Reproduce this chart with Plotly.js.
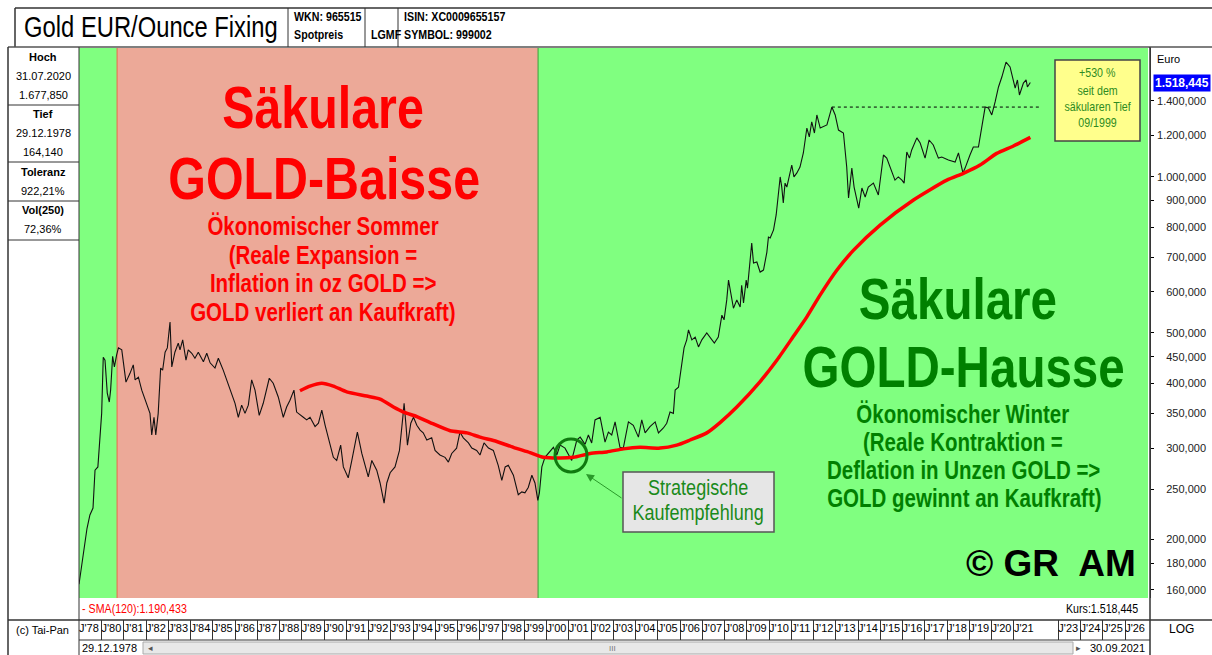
<!DOCTYPE html>
<html><head><meta charset="utf-8">
<script src="https://cdn.plot.ly/plotly-3.0.1.min.js"></script>
<style>html,body{margin:0;padding:0;background:#fff}#c{width:1212px;height:655px}</style>
</head><body><div id="c"></div>
<script>
// ---------- data ----------
const priceT = [1978.99,1979.08,1979.21,1979.35,1979.48,1979.62,1979.71,1979.84,1980.01,1980.08,
1980.16,1980.26,1980.35,1980.41,1980.50,1980.58,1980.68,1980.76,1980.91,1981.10,
1981.28,1981.43,1981.51,1981.66,1981.81,1982.03,1982.18,1982.26,1982.36,1982.44,
1982.55,1982.66,1982.75,1982.86,1982.96,1983.08,1983.16,1983.30,1983.45,1983.53,
1983.65,1983.80,1983.90,1984.06,1984.20,1984.35,1984.58,1984.73,1984.88,1985.10,
1985.25,1985.47,1985.63,1985.78,1986.00,1986.15,1986.30,1986.45,1986.60,1986.75,
1986.90,1987.09,1987.27,1987.54,1987.72,1987.95,1988.17,1988.32,1988.47,1988.65,
1988.77,1989.07,1989.22,1989.37,1989.60,1989.75,1989.90,1990.05,1990.27,1990.42,
1990.57,1990.75,1990.87,1991.09,1991.25,1991.50,1991.70,1991.99,1992.15,1992.37,
1992.52,1992.70,1992.82,1992.97,1993.19,1993.39,1993.54,1993.60,1993.69,1993.75,
1993.90,1994.02,1994.17,1994.32,1994.46,1994.62,1994.84,1994.99,1995.21,1995.44,
1995.59,1995.74,1995.96,1996.11,1996.26,1996.49,1996.64,1996.86,1997.01,1997.19,
1997.39,1997.61,1997.83,1997.99,1998.14,1998.28,1998.51,1998.73,1998.89,1999.03,
1999.18,1999.34,1999.48,1999.61,1999.68,1999.79,1999.93,2000.16,2000.31,2000.46,
2000.61,2000.83,2001.13,2001.36,2001.51,2001.73,2001.88,2002.03,2002.18,2002.41,
2002.63,2002.78,2002.93,2003.08,2003.30,2003.45,2003.68,2003.90,2004.13,2004.28,
2004.43,2004.65,2004.88,2005.03,2005.25,2005.40,2005.55,2005.70,2005.78,2005.93,
2006.08,2006.18,2006.30,2006.38,2006.53,2006.68,2006.83,2006.98,2007.20,2007.35,
2007.54,2007.72,2007.88,2007.98,2008.10,2008.18,2008.40,2008.55,2008.70,2008.77,
2008.85,2008.97,2009.03,2009.22,2009.30,2009.45,2009.60,2009.75,2009.90,2009.97,
2010.05,2010.20,2010.32,2010.50,2010.57,2010.64,2010.72,2010.80,2011.02,2011.12,
2011.25,2011.39,2011.54,2011.70,2011.81,2011.92,2012.04,2012.15,2012.30,2012.60,
2012.74,2012.82,2012.97,2013.12,2013.34,2013.49,2013.57,2013.64,2013.72,2013.82,
2013.91,2014.03,2014.17,2014.32,2014.46,2014.69,2014.91,2015.14,2015.29,2015.44,
2015.66,2015.81,2015.97,2016.07,2016.19,2016.31,2016.41,2016.64,2016.79,2017.01,
2017.19,2017.38,2017.61,2017.76,2018.06,2018.36,2018.51,2018.71,2018.81,2019.03,
2019.18,2019.41,2019.56,2019.71,2019.86,2020.01,2020.16,2020.31,2020.46,2020.65,
2020.83,2020.98,2021.06,2021.16,2021.25,2021.43,2021.55,2021.61,2021.74];
const priceV = [164,175,191,210,223,230,272,276,350,449,
443,383,368,388,451,430,453,468,464,402,
418,434,406,411,388,366,350,318,344,318,
350,428,424,459,468,525,430,459,478,464,
485,443,464,457,447,459,440,457,438,428,
447,424,406,388,366,344,363,350,363,406,
388,347,366,409,400,376,344,360,371,388,
352,344,340,344,330,335,355,332,304,288,
284,304,276,263,284,322,293,264,284,272,
257,235,257,269,276,297,344,366,330,304,
335,344,332,325,321,311,314,297,291,288,
282,293,300,322,314,307,300,297,291,307,
300,297,278,260,276,278,266,244,247,246,
252,266,257,238,246,276,288,295,301,291,
304,300,284,311,315,305,318,307,340,344,
308,322,318,337,301,300,337,332,315,340,
321,330,337,321,328,335,352,350,388,393,
443,468,485,507,485,491,470,485,500,491,
478,491,541,530,579,632,558,579,561,618,
571,632,610,745,682,685,655,661,715,765,
762,790,844,999,955,890,972,955,1053,999,
1017,1044,1111,1241,1193,1275,1214,1315,1241,1258,
1315,1362,1315,1230,1214,1044,910,985,1039,955,
910,870,951,914,955,972,922,1101,1086,1044,
985,999,985,972,1116,1086,1126,1188,1161,1086,
1177,1151,1086,1091,1077,1067,1111,1017,1039,1101,
1141,1141,1258,1362,1356,1315,1393,1489,1556,1663,
1627,1536,1482,1536,1437,1515,1536,1489,1518.445];

const smaT = [1988.92,1989.37,1989.90,1990.42,1991.02,1991.92,1992.52,1993.12,1993.57,1994.17,
1994.77,1995.67,1996.42,1997.01,1997.76,1998.51,1999.26,1999.86,2000.61,2001.21,
2001.96,2002.71,2003.46,2004.20,2005.10,2005.85,2006.45,2007.20,2007.80,2008.55,
2009.60,2010.35,2011.09,2011.70,2012.30,2013.05,2013.80,2014.99,2016.49,2017.99,
2018.73,2019.48,2020.23,2020.98,2021.74];
const smaV = [387,395,400,395,385,378,373,360,352,345,
336,324,321,315,309,301,294,288,287,288,
293,295,299,301,300,304,311,321,336,360,
403,443,492,537,592,661,722,807,902,985,
1015,1053,1109,1146,1190.433];

const resistT = [2012.82, 2022.18];
const resistV = [1362, 1362];

const baissePhase = [1980.70, 1999.62];   // säkulare Baisse (rot hinterlegt)
const xRangeYears = [1978.99, 2027.12];
const yRangeValues = [154.3, 1770];

const yTickVals = [1400,1200,1000,900,800,700,600,500,450,400,350,300,250,200,180,160];
const yTickText = ["1.400,000","1.200,000","1.000,000","900,000","800,000","700,000","600,000","500,000","450,000","400,000","350,000","300,000","250,000","200,000","180,000","160,000"];

const xTickYears = [1978.99,1980,1981,1982,1983,1984,1985,1986,1987,1988,1989,1990,1991,1992,1993,1994,1995,1996,1997,1998,1999,2000,2001,2002,2003,2004,2005,2006,2007,2008,2009,2010,2011,2012,2013,2014,2015,2016,2017,2018,2019,2020,2021,2023,2024,2025,2026];
const xTickText = ["J'78","J'80","J'81","J'82","J'83","J'84","J'85","J'86","J'87","J'88","J'89","J'90","J'91","J'92","J'93","J'94","J'95","J'96","J'97","J'98","J'99","J'00","J'01","J'02","J'03","J'04","J'05","J'06","J'07","J'08","J'09","J'10","J'11","J'12","J'13","J'14","J'15","J'16","J'17","J'18","J'19","J'20","J'21","J'23","J'24","J'25","J'26"];

const lastKurs = "1.518,445";
const lastSMA = "1.190,433";

// ---------- helpers ----------
function ymd(d){const y=Math.floor(d);const a=Date.UTC(y,0,1),b=Date.UTC(y+1,0,1);return new Date(a+(d-y)*(b-a)).toISOString().slice(0,10);}
const W=1212,H=655;
const X=p=>p/W, Y=p=>1-p/H;
const ARIAL="Liberation Sans, Arial, sans-serif";

const xr=[ymd(xRangeYears[0]), ymd(xRangeYears[1])];
const yr=[Math.log10(yRangeValues[0]), Math.log10(yRangeValues[1])];
const xDom=[X(79),X(1150)];
const yDom=[Y(598),Y(48)];

const traces=[
 {x:resistT.map(ymd),y:resistV,type:'scatter',mode:'lines',line:{color:'#000',width:1,dash:'dot'},hoverinfo:'skip',xaxis:'x',yaxis:'y'},
 {x:smaT.map(ymd),y:smaV,type:'scatter',mode:'lines',line:{color:'#ff0000',width:3.5,shape:'spline',smoothing:0.6},hoverinfo:'skip',xaxis:'x',yaxis:'y3'},
 {x:priceT.map(ymd),y:priceV,type:'scatter',mode:'lines',line:{color:'#111',width:1.1},hoverinfo:'skip',xaxis:'x',yaxis:'y'},
 {x:[],y:[],type:'scatter',xaxis:'x2',yaxis:'y2',hoverinfo:'skip'}
];

function line(x0,y0,x1,y1,c,w,dash){return {type:'line',xref:'paper',yref:'paper',x0:X(x0),y0:Y(y0),x1:X(x1),y1:Y(y1),line:{color:c||'#333',width:w||1,dash:dash||'solid'}};}
function rect(x0,y0,x1,y1,fill,lc,lw,layer){return {type:'rect',xref:'paper',yref:'paper',x0:X(x0),y0:Y(y0),x1:X(x1),y1:Y(y1),fillcolor:fill,line:{color:lc||'rgba(0,0,0,0)',width:lw||0},layer:layer||'above'};}

const shapes=[
 rect(79,48,1148,598,'rgb(128,255,128)',null,0,'below'),
 {type:'rect',xref:'x',yref:'y domain',x0:ymd(baissePhase[0]),x1:ymd(baissePhase[1]),y0:0,y1:1,fillcolor:'rgb(236,169,152)',line:{width:0},layer:'below'},
 {type:'line',xref:'x',yref:'y domain',x0:ymd(baissePhase[0]),x1:ymd(baissePhase[0]),y0:0,y1:1,line:{color:'#e86a4a',width:1},layer:'below'},
 {type:'line',xref:'x',yref:'y domain',x0:ymd(baissePhase[1]),x1:ymd(baissePhase[1]),y0:0,y1:1,line:{color:'#3aa03a',width:1},layer:'below'},
 // header
 line(15,8,1212,8,'#333',1.5), line(15,8,15,47,'#333',1.5),
 line(8,47,1212,47,'#555',1.5),
 line(288,8,288,47,'#333',1), line(365,8,365,47,'#333',1), line(398,8,398,47,'#333',1),
 // left panel
 line(8,47,8,655,'#333',1.5), line(79,47,79,620,'#333',1),
 line(8,105,79,105,'#333',1), line(8,162,79,162,'#333',1), line(8,201,79,201,'#333',1), line(8,240,79,240,'#333',1),
 // right panel
 line(1150,47,1150,655,'#333',1.5),
 // bottom rows
 line(8,620,1212,620,'#333',1.5), line(79,640,1150,640,'#333',1), line(79,620,79,655,'#333',1),
 rect(143,642,1073,654,'#e8e8e8','#aaa',1),
 // boxes
 rect(1055,60,1140,141,'rgb(255,255,140)','#444',1.5),
 rect(623,472,774,532,'rgb(230,230,230)','#555',1.5),
 {type:'circle',xref:'paper',yref:'paper',x0:X(555),x1:X(587),y0:Y(472),y1:Y(439),line:{color:'#0f7a0f',width:3}}
];

const annotations=[];
const condensed={};   // annotation index -> transform origin (narrow typeface look)
function ann(text,x,y,size,color,xa,narrow,extra){
  annotations.push(Object.assign({text:text,x:X(x),y:Y(y),xref:'paper',yref:'paper',showarrow:false,xanchor:xa||'center',yanchor:'middle',font:{size:size,color:color||'#000',family:ARIAL}},extra||{}));
  if(narrow) condensed[annotations.length-1]=(xa==='left'?'left center':(xa==='right'?'right center':'center'));
}
const RED='#ff0000', GRN='#008000';
ann('Gold EUR/Ounce Fixing',22,27,29,'#000','left',true);
ann('<b>WKN: 965515</b>',292,17,13,'#000','left',true);
ann('<b>Spotpreis</b>',292,35,13,'#000','left',true);
ann('<b>LGMF</b>',369,35,13,'#000','left',true);
ann('<b>ISIN: XC0009655157</b>',402,17,13,'#000','left',true);
ann('<b>SYMBOL: 999002</b>',402,35,13,'#000','left',true);
// left info panel
ann('<b>Hoch</b>',43,57,11); ann('31.07.2020',43,76,11); ann('1.677,850',43,95,11);
ann('<b>Tief</b>',43,114,11); ann('29.12.1978',43,133,11); ann('164,140',43,152,11);
ann('<b>Toleranz</b>',43,172,11); ann('922,21%',43,191,11);
ann('<b>Vol(250)</b>',43,210,11); ann('72,36%',43,229,11);
// right panel
ann('Euro',1155,59,11,'#000','left');
annotations.push({text:'<b>'+lastKurs+'</b>',x:X(1153),y:Math.log10(priceV[priceV.length-1]),xref:'paper',yref:'y',showarrow:false,xanchor:'left',yanchor:'middle',bgcolor:'#0000ff',borderpad:1,font:{size:12,color:'#fff',family:ARIAL}});
ann('LOG',1181,629,12,'#000');
// bottom
ann('- SMA(120):'+lastSMA,80,608,13,RED,'left',true);
ann('Kurs:'+lastKurs,1140,608,13,'#000','right',true);
ann('(c) Tai-Pan',42,630,11);
ann('29.12.1978',80,648,11,'#000','left');
ann('30.09.2021',1147,648,11,'#000','right');
ann('◂',150,648,9,'#555'); ann('▸',1078,648,9,'#555'); ann('III',612,648,8,'#777');
// red block
ann('<b>Säkulare</b>',323,108,59,RED,'center',true);
ann('<b>GOLD-Baisse</b>',324,179,59,RED,'center',true);
ann('<b>Ökonomischer Sommer</b>',323,226,25,RED,'center',true);
ann('<b>(Reale Expansion =</b>',323,255,25,RED,'center',true);
ann('<b>Inflation in oz GOLD =></b>',323,283,25,RED,'center',true);
ann('<b>GOLD verliert an Kaufkraft)</b>',323,312,25,RED,'center',true);
// green block
ann('<b>Säkulare</b>',958,298,58,GRN,'center',true);
ann('<b>GOLD-Hausse</b>',963,367,58,GRN,'center',true);
ann('<b>Ökonomischer Winter</b>',963,414,25,GRN,'center',true);
ann('<b>(Reale Kontraktion =</b>',963,442,25,GRN,'center',true);
ann('<b>Deflation in Unzen GOLD =></b>',963,470,25,GRN,'center',true);
ann('<b>GOLD gewinnt an Kaufkraft)</b>',964,498,25,GRN,'center',true);
ann('<b>© GR  AM</b>',1051,563,37,'#000');
// yellow box
ann('+530 %',1097,73,13,'#2e8b22','center',true);
ann('seit dem',1097,90,13,'#2e8b22','center',true);
ann('säkularen Tief',1097,106,13,'#2e8b22','center',true);
ann('09/1999',1097,122,13,'#2e8b22','center',true);
// grey box
ann('Strategische',698,487,22,'#1a8a1a','center',true);
ann('Kaufempfehlung',698,512,22,'#1a8a1a','center',true);
annotations.push({text:'',xref:'paper',yref:'paper',x:X(586),y:Y(474),ax:37,ay:25,showarrow:true,arrowhead:2,arrowsize:1.6,arrowwidth:1,arrowcolor:'#2a9a2a',standoff:0});

const layout={
 width:W,height:H,margin:{l:0,r:0,t:0,b:0},paper_bgcolor:'#fff',plot_bgcolor:'rgba(0,0,0,0)',showlegend:false,
 font:{family:ARIAL,size:11,color:'#000'},
 xaxis:{domain:xDom,anchor:'y',type:'date',range:xr,showticklabels:false,ticks:'',showgrid:false,zeroline:false,showline:false,fixedrange:true},
 yaxis:{domain:yDom,anchor:'x',type:'log',range:yr,side:'right',showline:true,linecolor:'#444',linewidth:1,ticks:'outside',ticklen:3,tickcolor:'#000',tickvals:yTickVals,showticklabels:false,showgrid:false,zeroline:false,fixedrange:true},
 yaxis3:{overlaying:'y',anchor:'free',position:X(1206),side:'left',type:'log',range:yr,tickvals:yTickVals,ticktext:yTickText,ticks:'',showline:false,showgrid:false,zeroline:false,tickfont:{size:11,color:'#222',family:ARIAL},fixedrange:true},
 xaxis2:{domain:xDom,anchor:'y2',type:'date',range:xr,tickvals:xTickYears.map(ymd),ticktext:xTickText,ticks:'',tickangle:0,ticklabelposition:'inside right',showgrid:true,gridcolor:'#333',gridwidth:1,zeroline:false,showline:false,tickfont:{size:11,color:'#000',family:ARIAL},fixedrange:true},
 yaxis2:{domain:[Y(640),Y(620)],anchor:'x2',range:[0,1],showticklabels:false,showgrid:false,zeroline:false,ticks:'',fixedrange:true},
 shapes:shapes,annotations:annotations
};
Plotly.newPlot('c',traces,layout,{staticPlot:true,displayModeBar:false}).then(function(){
  document.querySelectorAll('#c g.annotation').forEach(function(g){
    const i=+g.getAttribute('data-index');
    if(condensed[i]!==undefined){
      const t=g.querySelector('text');
      if(t){t.style.transformBox='fill-box';t.style.transformOrigin=condensed[i];t.style.transform='scaleX(0.82)';}
    }
  });
});
</script></body></html>
